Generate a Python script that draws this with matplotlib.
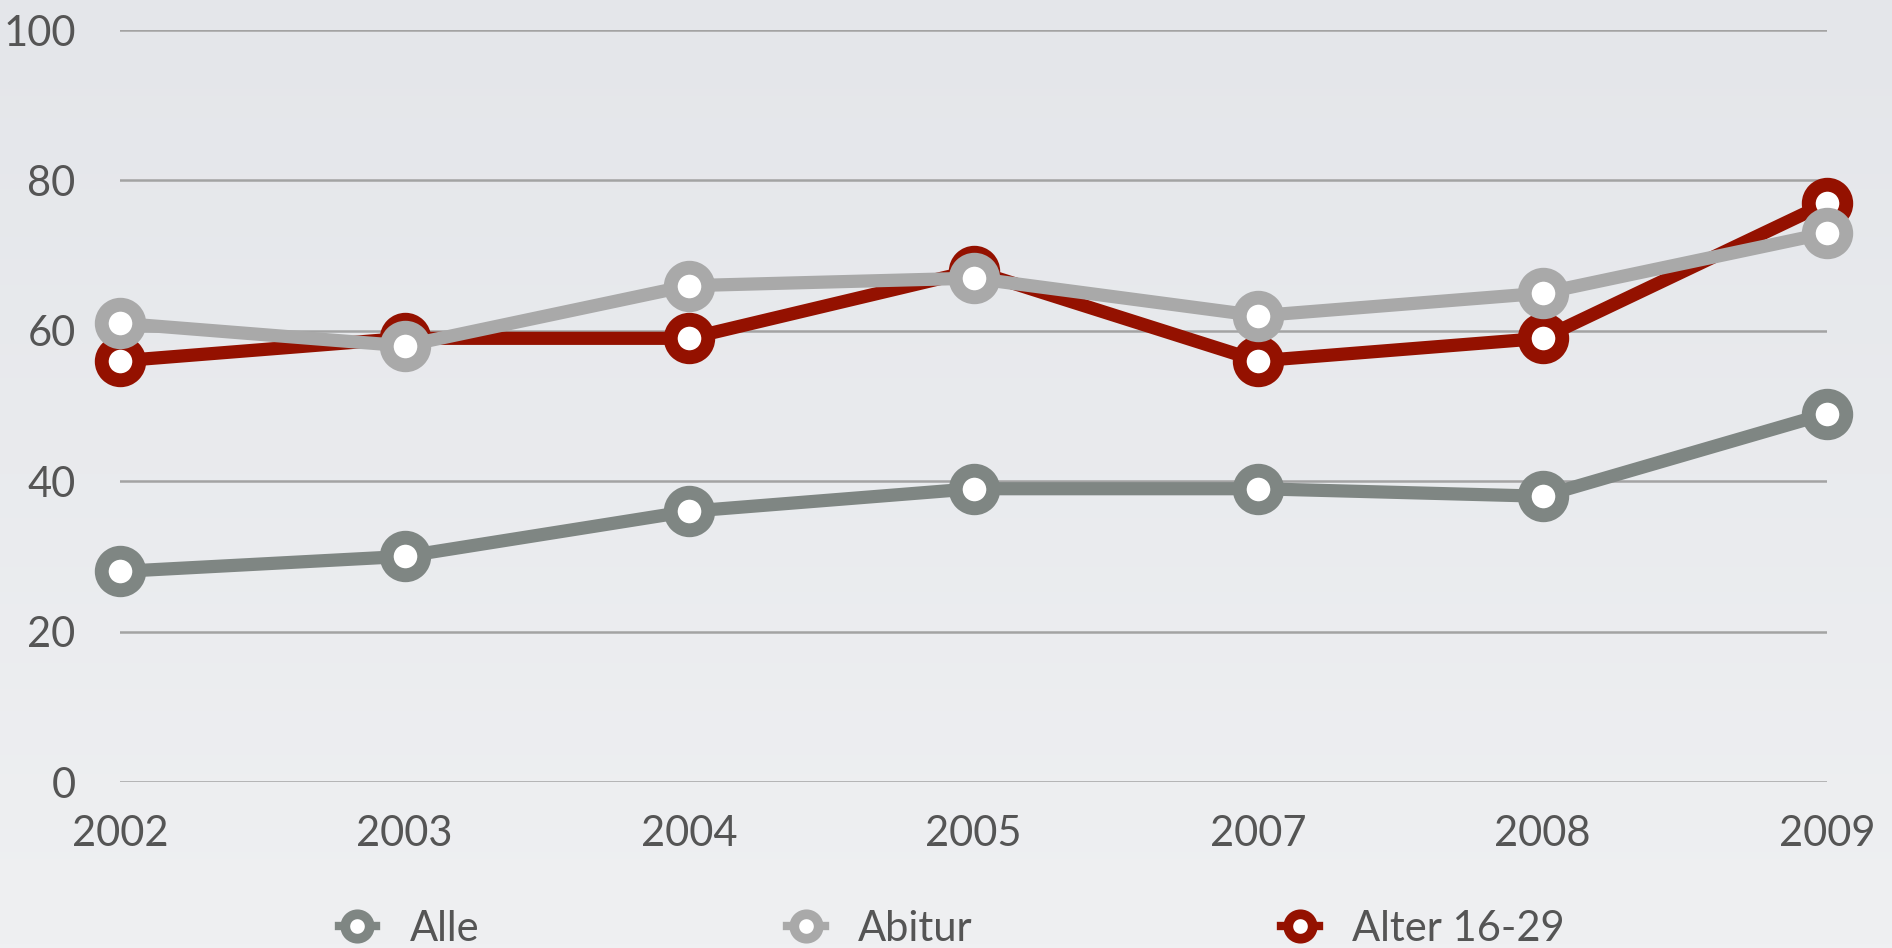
import numpy as np
import matplotlib
matplotlib.use("Agg")
import matplotlib.pyplot as plt

# Daten
jahre = ["2002", "2003", "2004", "2005", "2007", "2008", "2009"]
alle = [28, 30, 36, 39, 39, 38, 49]
abitur = [61, 58, 66, 67, 62, 65, 73]
alter_16_29 = [56, 59, 59, 68, 56, 59, 77]

plt.rcParams['font.family'] = ['Lato', 'DejaVu Sans']
plt.rcParams['font.weight'] = 'normal'
textfarbe = '#555555'

fig = plt.figure(figsize=(18.92, 9.48), dpi=100)

# Hintergrund mit leichtem Verlauf
bg = fig.add_axes([0, 0, 1, 1], zorder=-10)
grad = np.linspace(0, 1, 256).reshape(-1, 1)
bg.imshow(grad, aspect='auto', cmap=matplotlib.colors.LinearSegmentedColormap.from_list(
    'bg', ['#e4e6ea', '#eff0f2']), extent=[0, 1, 0, 1])
bg.axis('off')

ax = fig.add_axes([120 / 1892, 1 - 782 / 948, (1827 - 120) / 1892, (782 - 30) / 948])
ax.patch.set_alpha(0)

x = np.arange(len(jahre))
ring = dict(marker='o', markersize=27, markerfacecolor='white',
            markeredgewidth=10, linewidth=9.5, clip_on=False)
ax.plot(x, alle, color='#7f8683', label='Alle', zorder=3, **ring)
ax.plot(x, abitur, color='#a9a9a9', label='Abitur', zorder=5, **ring)
ax.plot(x, alter_16_29, color='#941100', label='Alter 16-29', zorder=4, **ring)

ax.set_xlim(0, len(jahre) - 1)
ax.set_ylim(0, 100)
ax.set_yticks([0, 20, 40, 60, 80, 100])
ax.set_xticks(x)
ax.set_xticklabels(jahre)
ax.yaxis.grid(True, color='#a3a3a3', linewidth=1.8)
ax.set_axisbelow(True)
for s in ax.spines.values():
    s.set_visible(False)
ax.tick_params(axis='both', length=0, labelsize=30, labelcolor=textfarbe)
ax.tick_params(axis='y', pad=32)
ax.tick_params(axis='x', pad=24)

handles, labels = ax.get_legend_handles_labels()
leg = fig.legend(handles, labels,
                 loc='center', bbox_to_anchor=(0.503, 1 - 929 / 948), ncol=3,
                 frameon=False, fontsize=30, markerscale=0.65,
                 handlelength=0.9, handletextpad=0.8, columnspacing=7.4)
for h in leg.legend_handles:
    h.set_linewidth(6)
    h.set_markeredgewidth(7)
for t in leg.get_texts():
    t.set_color(textfarbe)

fig.savefig('out.png', dpi=100)
